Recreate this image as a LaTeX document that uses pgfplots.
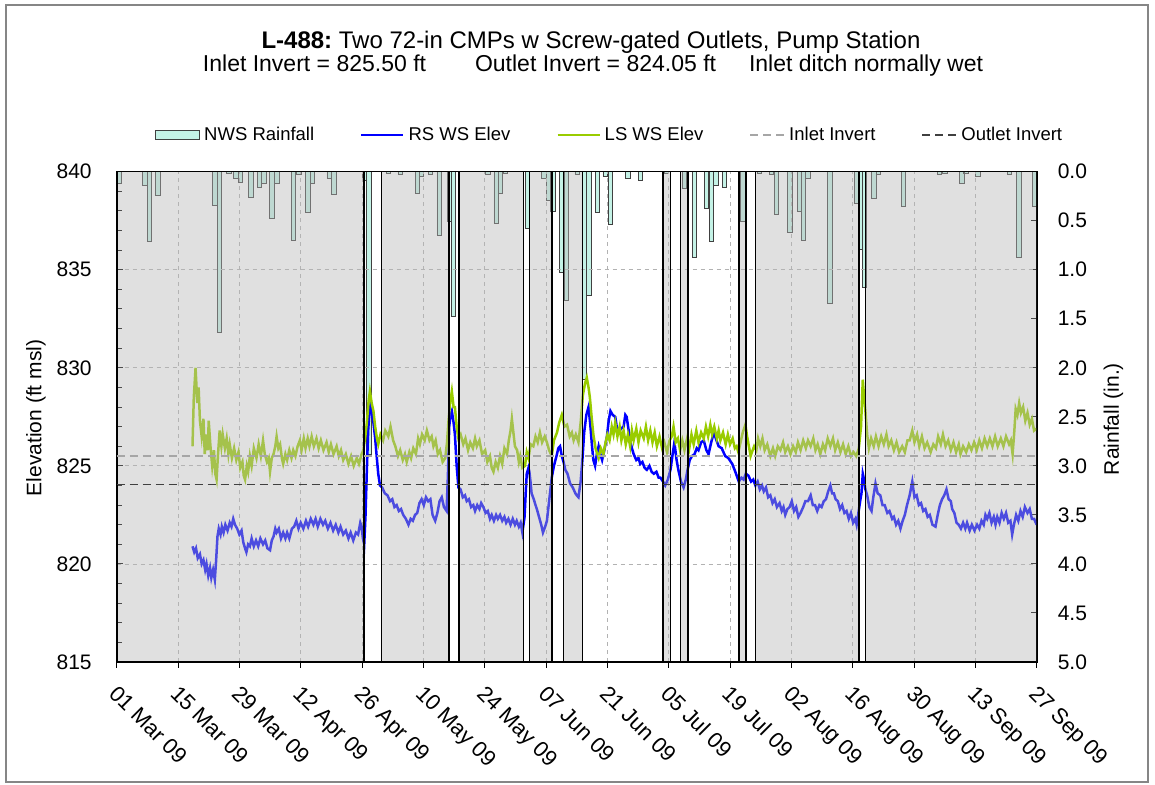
\documentclass[border=0pt]{standalone}
\usepackage{pgfplots}
\pgfplotsset{compat=1.18}
\usepackage{fontspec}
\setmainfont{Liberation Sans}
\definecolor{rainfill}{RGB}{196,242,230}
\definecolor{lsgreen}{RGB}{153,204,0}
\definecolor{rsblue}{RGB}{0,0,255}
\definecolor{shade}{RGB}{182,182,182}
\definecolor{framegray}{RGB}{134,134,134}
\newcommand\tickfont{\fontsize{10.5bp}{12.5bp}\selectfont}
\newcommand\datefont{\fontsize{11bp}{13bp}\selectfont}
\newcommand\legfont{\fontsize{9.25bp}{11bp}\selectfont}
\newcommand\titfont{\fontsize{11.5bp}{13.5bp}\selectfont}
\newcommand\titfontA{\fontsize{12bp}{14bp}\selectfont}
\pgfplotsset{/pgf/number format/assume math mode=true}
\begin{document}
\begin{tikzpicture}
\useasboundingbox (0,0) rectangle (577.5bp,392.5bp);
\draw[framegray, line width=0.75bp] (3bp,1.5bp) rectangle (574bp,390bp);
% ---------------- rainfall axis (right) ----------------
\begin{axis}[at={(58.35bp,61.5bp)}, anchor=south west, width=460bp, height=245.15bp, scale only axis,
  xmin=0, xmax=210, ymin=0, ymax=5, y dir=reverse,
  axis x line=none, axis y line*=right,
  axis line style={black, line width=0.8bp},
  ytick={0,0.5,1,1.5,2,2.5,3,3.5,4,4.5,5},
  yticklabels={0.0,0.5,1.0,1.5,2.0,2.5,3.0,3.5,4.0,4.5,5.0},
  ytick align=inside, major tick length=3bp, tick style={black, line width=0.5bp},
  yticklabel style={font=\tickfont, xshift=7bp}]
\addplot[ybar, bar width=1, fill=rainfill, draw=black!75, line width=0.4bp] coordinates {
(0.6,0.12) (6.4,0.14) (7.5,0.71) (9.4,0.245) (22.4,0.34) (23.5,1.64) (25.6,0.02) (27.2,0.07)
(28.3,0.105) (30.6,0.26) (32.6,0.16) (33.6,0.12) (35.4,0.48) (36.6,0.12) (40.4,0.70) (41.6,0.03)
(43.6,0.41) (44.6,0.12) (48.5,0.07) (49.6,0.235) (56.5,0.09) (57.6,2.88) (62.0,0.02) (64.7,0.03)
(68.7,0.22) (69.6,0.05) (71.6,0.03) (73.6,0.65) (75.9,0.51) (76.8,1.48) (84.7,0.03) (86.6,0.53)
(87.6,0.22) (88.7,0.02) (93.7,0.575) (97.5,0.07) (98.5,0.29) (99.6,0.40) (101.5,1.03) (102.6,1.31)
(105.1,0.03) (106.7,2.12) (107.8,1.26) (109.7,0.41) (111.5,0.05) (112.7,0.54) (116.7,0.07) (119.6,0.09)
(125.5,0.02) (129.6,0.17) (131.9,0.87) (134.6,0.37) (135.7,0.71) (136.8,0.14) (138.7,0.16) (142.9,0.51)
(146.7,0.02) (149.5,0.03) (150.6,0.44) (153.7,0.62) (155.9,0.40) (156.8,0.70) (157.8,0.07) (162.8,1.34)
(168.8,0.32) (169.8,0.79) (170.7,1.18) (172.8,0.27) (173.9,0.03) (179.6,0.35) (187.8,0.03) (189.0,0.02)
(192.9,0.12) (193.8,0.02) (196.6,0.05) (203.8,0.03) (205.9,0.87) (209.5,0.35)};
\end{axis}
% ---------------- elevation axis (left) ----------------
\begin{axis}[at={(58.35bp,61.5bp)}, anchor=south west, width=460bp, height=245.15bp, scale only axis,
  xmin=0, xmax=210, ymin=815, ymax=840,
  axis line style={black, line width=0.8bp},
  xtick={0,14,...,210},
  xticklabels={01 Mar 09,15 Mar 09,29 Mar 09,12 Apr 09,26 Apr 09,10 May 09,24 May 09,07 Jun 09,21 Jun 09,05 Jul 09,19 Jul 09,02 Aug 09,16 Aug 09,30 Aug 09,13 Sep 09,27 Sep 09},
  xtick pos=lower, ytick pos=left, xtick align=outside, ytick align=inside,
  ytick={815,820,825,830,835,840}, minor y tick num=4,
  major tick length=3bp, minor tick length=2.5bp, tick style={black, line width=0.5bp},
  grid=major, grid style={dash pattern=on 2bp off 2bp, color=black!30, line width=0.4bp},
  xticklabel style={font=\datefont, rotate=-45, anchor=north west, xshift=3bp, yshift=-1.5bp},
  yticklabel style={font=\tickfont, xshift=-9bp},
  legend columns=5,
  legend style={at={(0.5,1)}, anchor=center, xshift=17bp, yshift=18.3bp, draw=none, fill=none, font=\legfont,
    /tikz/every even column/.append style={column sep=21bp}},
  ]
\addlegendimage{legend image code/.code={\draw[fill=rainfill, draw=black!75, line width=0.5bp] (0bp,-2.2bp) rectangle (22bp,2.2bp);}}
\addlegendentry{NWS Rainfall}
\addplot[rsblue, line width=1.25bp, legend image code/.code={\draw[rsblue, line width=1.2bp] (0bp,0bp) -- (21bp,0bp);}] table {
x y
17.3 820.9
17.7 820.6
18.1 820.8
18.5 820.3
19.0 820.5
19.4 820.0
19.8 820.2
20.2 819.7
20.5 820.0
20.9 819.4
21.3 819.8
21.6 819.3
22.0 819.7
22.4 819.2
22.7 820.2
23.0 821.4
23.3 821.8
23.7 821.5
24.0 821.9
24.4 821.6
24.8 822.0
25.3 821.7
25.8 822.1
26.2 821.9
26.6 822.3
27.0 822.0
27.5 821.8
28.0 821.5
28.5 821.7
28.9 821.1
29.3 820.8
29.6 820.6
30.0 821.0
30.4 820.9
30.8 821.3
31.3 820.9
31.8 821.2
32.3 820.9
32.8 821.3
33.4 821.0
33.9 821.2
34.4 820.8
35.0 820.7
35.4 821.2
35.8 821.4
36.2 821.8
36.5 821.6
37.0 821.8
37.5 821.3
38.0 821.6
38.5 821.3
38.9 821.6
39.4 821.3
40.0 821.8
40.5 821.9
41.0 822.2
41.5 821.8
42.0 822.1
42.6 821.8
43.2 822.2
43.7 821.9
44.3 822.3
44.9 822.0
45.4 822.3
45.9 821.9
46.5 822.3
47.1 822.0
47.6 822.2
48.2 821.8
48.8 822.1
49.4 821.7
50.0 822.0
50.6 821.6
51.1 821.9
51.7 821.5
52.3 821.7
52.9 821.3
53.4 821.6
54.0 821.2
54.6 821.6
55.1 821.5
55.6 822.1
55.9 821.9
56.2 821.3
56.5 821.0
56.8 822.5
57.1 824.8
57.4 826.8
57.7 827.8
58.0 828.2
58.3 827.6
58.6 827.2
59.0 826.4
59.3 825.6
59.7 824.6
60.1 824.0
60.6 823.9
61.2 823.6
61.8 823.5
62.4 823.2
62.9 823.3
63.4 822.9
63.9 823.0
64.4 822.7
64.9 822.8
65.4 822.5
66.0 822.3
66.6 822.0
67.1 822.3
67.6 822.2
68.1 822.5
68.6 822.6
69.1 823.1
69.6 823.3
70.1 823.0
70.6 823.4
71.1 823.2
71.6 823.3
72.1 822.5
72.7 822.2
73.2 822.6
73.7 823.2
74.2 823.4
74.7 822.9
75.3 822.7
75.6 824.5
75.9 827.0
76.2 827.6
76.5 827.8
76.9 827.2
77.2 826.6
77.6 825.0
78.0 823.9
78.5 823.8
79.0 823.4
79.5 823.5
79.9 823.2
80.4 823.3
80.9 822.9
81.4 823.0
81.8 822.7
82.3 823.0
82.8 822.8
83.2 823.1
83.7 822.9
84.2 822.6
84.7 822.7
85.2 822.3
85.6 822.5
86.1 822.2
86.6 822.5
87.0 822.3
87.5 822.5
88.0 822.2
88.5 822.4
88.9 822.1
89.4 822.3
89.9 822.0
90.4 822.3
90.9 822.0
91.3 822.2
91.8 821.9
92.2 822.1
92.6 821.6
93.1 822.4
93.4 823.8
93.6 824.6
94.0 824.9
94.2 824.7
94.5 824.1
94.7 823.6
95.2 823.3
95.6 823.0
95.9 822.8
96.4 822.4
96.9 822.0
97.3 821.6
97.8 821.9
98.2 822.2
98.7 823.2
99.3 824.4
99.8 825.0
100.5 825.6
100.8 825.9
101.2 826.0
101.6 825.5
102.0 825.2
102.4 824.8
102.9 824.6
103.5 824.1
104.1 823.9
104.7 823.6
105.0 823.5
105.4 823.4
105.9 824.2
106.3 825.3
106.7 826.7
107.2 827.6
107.7 828.0
108.1 827.1
108.5 826.0
108.8 825.3
109.2 825.0
109.6 825.6
110.0 826.0
110.4 825.6
110.8 825.3
111.3 825.8
111.9 826.5
112.3 827.3
112.7 827.8
113.2 827.6
113.8 827.5
114.2 826.9
114.6 826.7
115.1 826.9
115.7 827.0
116.1 827.6
116.4 827.5
116.8 826.9
117.2 826.3
117.6 825.9
118.0 825.6
118.6 825.3
119.1 825.4
119.5 825.1
120.0 825.2
120.5 824.9
121.0 824.8
121.6 825.0
122.1 824.7
122.6 824.6
123.2 824.7
123.7 824.4
124.1 824.4
124.7 824.2
125.2 824.0
125.8 824.3
126.4 824.8
126.9 825.6
127.3 826.2
127.8 825.3
128.2 824.8
128.8 824.2
129.4 823.9
129.9 824.3
130.3 824.8
130.8 825.3
131.3 825.5
131.9 825.6
132.4 825.9
132.8 825.8
133.4 826.2
134.0 826.3
134.6 825.8
135.1 825.6
135.7 826.2
136.3 826.7
136.9 826.3
137.4 826.0
138.1 825.9
138.9 825.5
139.6 825.4
140.5 825.1
141.2 824.7
142.0 824.2
142.6 824.4
143.1 824.3
143.6 824.6
144.2 824.5
144.8 824.2
145.3 824.3
145.8 824.0
146.3 824.2
146.8 823.8
147.3 824.0
147.7 823.7
148.2 823.9
148.7 823.4
149.2 823.5
149.7 823.1
150.2 823.3
150.7 822.9
151.3 823.1
151.8 822.7
152.2 822.9
152.6 822.5
153.1 822.8
153.6 822.9
154.1 823.2
154.6 822.7
155.1 822.9
155.6 822.4
156.1 822.6
156.7 822.9
157.2 823.2
157.8 823.2
158.4 823.5
158.9 823.0
159.4 823.0
159.9 822.7
160.4 823.0
160.9 822.9
161.4 823.2
161.9 823.3
162.4 823.7
162.9 824.0
163.3 823.6
163.7 823.6
164.1 823.3
164.6 823.2
165.1 822.8
165.6 823.0
166.1 822.6
166.6 822.7
167.1 822.3
167.6 822.6
168.1 822.1
168.6 822.3
168.9 822.0
169.3 822.6
169.7 823.2
170.0 823.6
170.3 824.6
170.6 824.3
170.9 823.8
171.3 823.5
171.8 822.9
172.3 822.7
172.7 823.4
173.2 824.1
173.7 823.6
174.3 823.5
174.8 823.0
175.3 823.0
175.9 822.6
176.4 822.7
177.0 822.3
177.4 822.4
177.9 822.0
178.4 822.2
178.9 821.8
179.4 822.2
179.9 822.5
180.4 823.0
181.0 823.5
181.6 824.2
182.1 823.4
182.6 823.5
183.1 823.0
183.6 823.1
184.1 822.7
184.6 822.8
185.1 822.4
185.6 822.5
186.2 822.0
186.9 821.9
187.4 822.5
187.9 823.0
188.4 823.3
188.9 823.5
189.4 823.8
189.9 823.3
190.4 823.2
190.7 822.8
191.2 822.6
191.7 822.1
192.2 822.0
192.7 821.8
193.2 822.1
193.7 821.8
194.1 822.1
194.7 821.7
195.2 822.0
195.8 821.7
196.4 822.0
196.9 821.8
197.4 822.2
197.9 822.0
198.3 822.5
198.7 822.3
199.2 822.6
199.7 822.1
200.2 822.4
200.6 822.0
201.0 822.4
201.5 822.1
202.0 822.6
202.5 822.3
203.0 822.6
203.5 822.1
204.0 822.2
204.4 821.5
204.8 822.0
205.3 822.5
205.8 822.2
206.3 822.7
206.8 822.4
207.3 822.9
207.9 822.6
208.4 822.8
208.9 822.3
209.4 822.3
210.0 822.0
};
\addlegendentry{RS WS Elev}
\addplot[lsgreen, line width=1.25bp, legend image code/.code={\draw[lsgreen, line width=1.2bp] (0bp,0bp) -- (21bp,0bp);}] table {
x y
17.3 826.0
17.6 828.5
18.0 830.0
18.4 828.2
18.7 829.0
19.0 827.3
19.4 826.5
19.8 827.4
20.1 825.6
20.4 826.6
20.8 825.8
21.0 827.3
21.4 826.0
21.8 825.0
22.2 825.8
22.5 824.6
22.8 824.3
23.1 825.5
23.5 826.8
23.9 826.0
24.2 826.6
24.7 825.9
25.1 826.4
25.5 825.6
25.8 826.1
26.3 825.4
26.8 825.9
27.3 825.3
27.8 825.7
28.2 824.9
28.7 825.2
29.0 824.5
29.3 824.3
29.7 825.0
30.0 824.7
30.4 825.5
30.8 825.0
31.3 825.9
31.9 825.4
32.4 826.1
32.9 825.5
33.4 826.3
33.8 825.6
34.3 825.2
34.7 825.4
35.0 824.7
35.4 825.4
35.8 825.6
36.2 826.0
36.5 826.5
36.9 825.9
37.3 826.1
37.7 825.4
38.0 825.1
38.5 825.6
38.9 825.3
39.4 825.8
39.9 825.4
40.3 825.8
40.8 825.5
41.3 826.0
41.8 826.3
42.2 825.8
42.7 826.4
43.1 825.9
43.6 826.4
44.0 826.0
44.5 826.5
45.0 826.0
45.6 826.4
46.1 825.9
46.6 826.3
47.2 825.8
47.9 826.2
48.4 825.7
48.9 826.1
49.5 825.6
50.2 826.0
50.7 825.5
51.2 825.8
51.7 825.3
52.3 825.6
52.9 825.1
53.5 825.5
54.1 825.0
54.8 825.4
55.3 825.1
55.9 825.6
56.3 825.8
56.8 826.6
57.1 827.2
57.5 828.3
57.8 828.8
58.2 828.2
58.6 827.8
59.0 827.0
59.4 826.4
59.7 826.1
60.2 826.6
60.8 826.3
61.3 826.8
62.0 826.5
62.5 827.0
63.1 826.3
63.6 826.0
64.2 825.5
64.7 825.8
65.3 825.3
65.8 825.6
66.2 825.2
66.8 825.7
67.2 825.4
67.7 825.9
68.3 825.6
68.8 826.4
69.2 826.1
69.7 826.6
70.3 826.3
70.8 826.8
71.4 826.3
71.9 826.5
72.3 826.0
72.8 826.3
73.3 825.6
73.8 825.8
74.4 825.2
75.0 825.4
75.4 826.2
75.7 827.2
76.1 828.2
76.5 828.8
76.9 828.0
77.2 828.0
77.6 827.0
78.0 826.4
78.5 826.6
79.1 826.1
79.6 826.4
80.2 825.8
80.7 826.2
81.3 825.9
81.8 826.4
82.2 826.0
82.8 826.3
83.4 825.6
84.1 825.8
84.6 825.2
85.2 825.5
85.6 824.9
86.0 824.7
86.5 825.2
87.0 824.9
87.5 825.5
88.0 825.1
88.5 825.9
89.1 825.6
89.5 826.3
89.9 826.8
90.2 827.4
90.6 826.6
90.9 826.0
91.4 825.8
91.8 825.2
92.1 825.5
92.6 824.9
93.2 825.0
93.6 825.7
94.0 825.4
94.5 826.1
95.1 826.0
95.6 826.5
96.1 826.2
96.6 826.7
97.1 826.2
97.7 826.5
98.2 826.2
98.7 825.8
99.3 825.5
99.8 826.3
100.5 826.7
101.0 827.2
101.6 827.6
102.2 827.0
102.8 827.1
103.4 826.5
103.9 826.7
104.3 826.3
104.8 826.6
105.4 826.2
105.9 827.2
106.4 828.6
106.9 829.2
107.3 829.5
107.7 829.0
108.0 828.5
108.4 827.5
108.8 826.6
109.3 825.9
109.7 825.6
110.0 825.4
110.5 825.9
111.1 825.6
111.6 826.2
112.0 826.6
112.5 826.3
113.0 827.0
113.4 826.6
113.8 827.2
114.3 826.5
114.8 827.0
115.2 826.3
115.7 826.8
116.2 826.1
116.7 826.6
117.2 826.0
117.6 826.8
118.0 826.3
118.6 826.9
119.1 826.2
119.6 826.8
120.3 826.4
120.8 827.0
121.3 826.3
121.8 826.8
122.3 826.2
122.8 826.7
123.3 826.0
123.9 826.5
124.5 825.9
125.0 826.2
125.6 825.7
126.2 826.3
126.7 826.5
127.1 827.0
127.6 826.2
128.1 826.4
128.6 825.8
129.1 826.3
129.6 825.8
130.2 826.4
130.7 825.9
131.2 826.6
131.7 826.1
132.3 826.8
132.8 826.2
133.4 826.7
134.0 826.4
134.5 827.0
135.0 826.5
135.5 827.1
135.9 826.6
136.4 827.0
137.0 826.4
137.4 826.8
137.8 826.3
138.4 826.7
139.0 826.1
139.5 826.6
140.0 826.1
140.6 826.4
141.1 825.9
141.5 826.0
141.9 825.7
142.4 826.2
142.9 826.7
143.5 827.1
143.9 826.5
144.3 826.0
144.7 825.5
145.0 825.7
145.5 826.0
146.0 825.8
146.4 826.4
146.9 826.0
147.4 826.4
147.9 825.8
148.5 826.1
149.2 825.5
149.8 825.9
150.3 825.5
150.9 826.0
151.5 825.8
152.1 826.2
152.6 825.7
153.2 826.0
153.8 825.6
154.4 826.0
155.0 825.7
155.5 826.2
156.1 825.8
156.7 826.3
157.3 825.9
157.8 826.3
158.4 826.0
159.0 826.4
159.5 825.8
160.0 826.1
160.6 825.6
161.2 826.1
161.7 825.8
162.3 826.4
162.9 826.0
163.5 826.4
164.0 825.8
164.6 826.2
165.2 825.7
165.8 826.1
166.4 825.6
167.0 826.0
167.6 825.5
168.2 825.7
168.8 825.5
169.4 825.9
169.9 827.0
170.3 829.4
170.6 828.5
170.9 827.8
171.3 826.6
171.7 825.9
172.2 826.4
172.8 826.0
173.3 826.5
173.9 826.0
174.5 826.5
175.1 826.1
175.7 826.6
176.2 826.0
176.8 826.3
177.4 825.8
178.0 826.2
178.6 825.7
179.3 826.0
179.9 825.7
180.5 826.3
181.0 826.3
181.6 826.8
182.1 826.2
182.7 826.6
183.2 826.0
183.8 826.5
184.4 825.9
185.0 826.2
185.8 825.7
186.4 826.1
187.0 825.9
187.5 826.5
188.1 826.1
188.6 826.6
189.2 826.0
189.8 826.3
190.4 825.8
191.0 826.2
191.6 825.7
192.2 826.1
192.6 825.6
193.2 826.0
193.9 825.7
194.5 826.1
195.1 825.8
195.7 826.2
196.3 825.8
196.9 826.3
197.5 825.9
198.1 826.4
198.7 826.0
199.3 826.4
199.9 826.0
200.5 826.5
201.1 826.0
201.8 826.4
202.4 826.0
203.0 826.5
203.7 826.1
204.1 826.3
204.5 825.6
204.9 826.8
205.2 827.9
205.6 827.6
206.0 828.2
206.4 827.7
206.9 828.0
207.4 827.3
207.9 827.7
208.4 827.1
208.9 827.4
209.4 826.8
210.0 826.9
};
\addlegendentry{LS WS Elev}
% shaded periods (drawn over the data, semi-transparent)
\addplot[forget plot, fill=shade, fill opacity=0.42, draw=black, line width=0.8bp] coordinates {(0,815) (0,840) (56.4,840) (56.4,815)} -- cycle;
\addplot[forget plot, fill=shade, fill opacity=0.42, draw=black, line width=0.8bp] coordinates {(60.4,815) (60.4,840) (75.8,840) (75.8,815)} -- cycle;
\addplot[forget plot, fill=shade, fill opacity=0.42, draw=black, line width=0.8bp] coordinates {(78.1,815) (78.1,840) (92.9,840) (92.9,815)} -- cycle;
\addplot[forget plot, fill=shade, fill opacity=0.42, draw=black, line width=0.8bp] coordinates {(94.2,815) (94.2,840) (99.3,840) (99.3,815)} -- cycle;
\addplot[forget plot, fill=shade, fill opacity=0.42, draw=black, line width=0.8bp] coordinates {(102.0,815) (102.0,840) (106.3,840) (106.3,815)} -- cycle;
\addplot[forget plot, fill=shade, fill opacity=0.42, draw=black, line width=0.8bp] coordinates {(124.7,815) (124.7,840) (126.4,840) (126.4,815)} -- cycle;
\addplot[forget plot, fill=shade, fill opacity=0.42, draw=black, line width=0.8bp] coordinates {(128.7,815) (128.7,840) (130.4,840) (130.4,815)} -- cycle;
\addplot[forget plot, fill=shade, fill opacity=0.42, draw=black, line width=0.8bp] coordinates {(142.1,815) (142.1,840) (143.7,840) (143.7,815)} -- cycle;
\addplot[forget plot, fill=shade, fill opacity=0.42, draw=black, line width=0.8bp] coordinates {(145.8,815) (145.8,840) (169.4,840) (169.4,815)} -- cycle;
\addplot[forget plot, fill=shade, fill opacity=0.42, draw=black, line width=0.8bp] coordinates {(170.9,815) (170.9,840) (210,840) (210,815)} -- cycle;
\addplot[black!35, line width=0.9bp, dash pattern=on 4bp off 2.5bp] coordinates {(0,825.5) (210,825.5)};
\addlegendentry{Inlet Invert}
\addplot[black!75, line width=0.9bp, dash pattern=on 4bp off 2.5bp] coordinates {(0,824.05) (210,824.05)};
\addlegendentry{Outlet Invert}
\end{axis}
% ---------------- titles and axis labels ----------------
\node[font=\titfontA] at (295.5bp,371.5bp) {\textbf{L-488:}\ Two 72-in CMPs w Screw-gated Outlets, Pump Station};
\node[font=\titfont] at (296.5bp,359.5bp) {Inlet Invert = 825.50 ft\hspace{24.5bp}Outlet Invert = 824.05 ft\hspace{16.5bp}Inlet ditch normally wet};
\node[font=\tickfont, rotate=90] at (18bp,183.5bp) {Elevation (ft msl)};
\node[font=\tickfont, rotate=90] at (556.75bp,183bp) {Rainfall (in.)};
\end{tikzpicture}
\end{document}
